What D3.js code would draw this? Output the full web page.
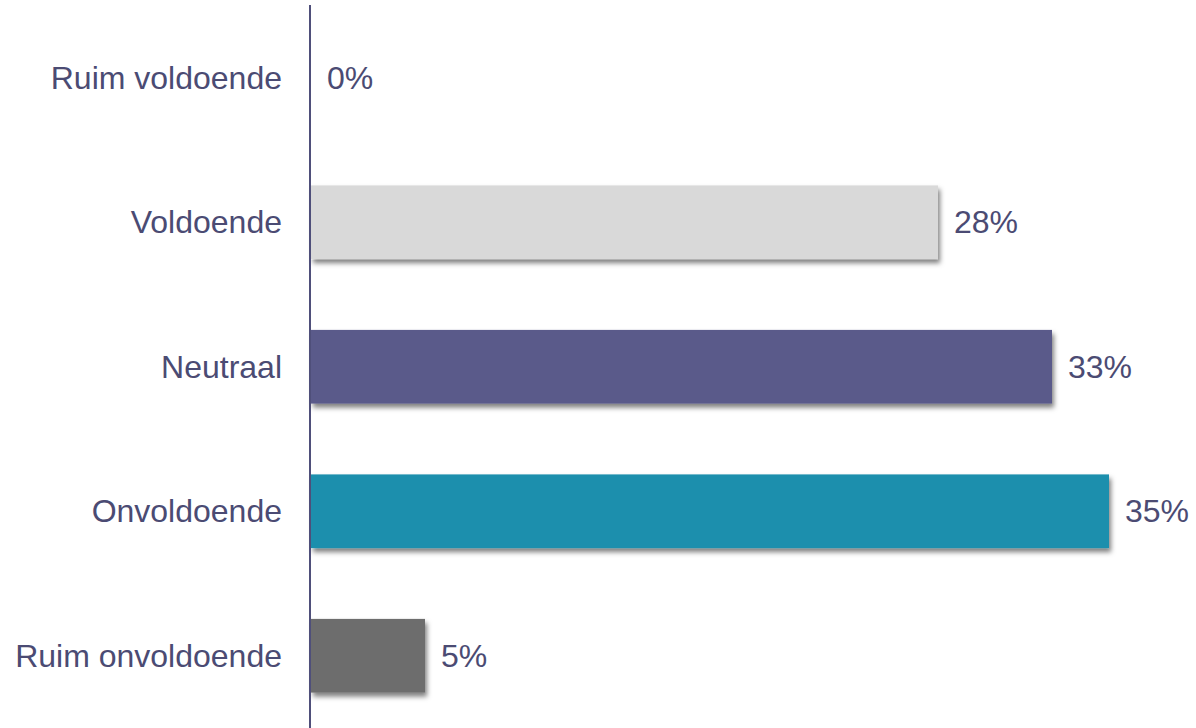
<!DOCTYPE html>
<html>
<head>
    <script src="https://d3js.org/d3.v7.min.js"></script>
    <style>
        body { margin: 0; background: #fff; }
    </style>
</head>
<body>
<script>
    // data
    var categories = ["Ruim voldoende", "Voldoende", "Neutraal", "Onvoldoende", "Ruim onvoldoende"];
    var values = [0, 27.5, 32.5, 35, 5];
    var valueLabels = ["0%", "28%", "33%", "35%", "5%"];
    var colors = ["#d9d9d9", "#d9d9d9", "#5a5a8a", "#1f8fad", "#6d6d6d"];

    var width = 1196, height = 728;
    var textColor = "#4b4b73";

    var svg = d3.select("body").append("svg")
        .attr("width", width)
        .attr("height", height);

    // drop shadow for the bars
    var filter = svg.append("defs").append("filter")
        .attr("id", "shadow")
        .attr("x", "-10%").attr("y", "-20%")
        .attr("width", "130%").attr("height", "160%");
    filter.append("feDropShadow")
        .attr("dx", 2).attr("dy", 4)
        .attr("stdDeviation", 2.5)
        .attr("flood-color", "#000")
        .attr("flood-opacity", 0.5);

    var xScale = d3.scaleLinear()
        .domain([0, 35])
        .range([311, 1109]);

    var yScale = d3.scaleBand()
        .domain(categories)
        .range([5.5, 728])
        .paddingInner(0.49)
        .paddingOuter(0.245);

    // bars
    svg.selectAll(".bar")
        .data(categories)
        .enter()
        .filter(function (d, i) { return values[i] > 0; })
        .append("rect")
        .attr("class", "bar")
        .attr("x", xScale(0))
        .attr("y", function (d) { return yScale(d); })
        .attr("width", function (d) { var i = categories.indexOf(d); return xScale(values[i]) - xScale(0); })
        .attr("height", yScale.bandwidth())
        .attr("fill", function (d) { return colors[categories.indexOf(d)]; })
        .attr("filter", "url(#shadow)");

    // axis line
    svg.append("line")
        .attr("x1", 310).attr("x2", 310)
        .attr("y1", 5).attr("y2", height)
        .attr("stroke", "#4f4f7a")
        .attr("stroke-width", 2);

    // category labels
    svg.selectAll(".cat")
        .data(categories)
        .enter()
        .append("text")
        .attr("class", "cat")
        .attr("x", 282)
        .attr("y", function (d) { return yScale(d) + yScale.bandwidth() / 2; })
        .attr("dy", "0.35em")
        .attr("text-anchor", "end")
        .style("font-family", "'Liberation Sans', Arial, sans-serif")
        .style("font-size", "32px")
        .style("fill", textColor)
        .text(function (d) { return d; });

    // value labels
    svg.selectAll(".val")
        .data(categories)
        .enter()
        .append("text")
        .attr("class", "val")
        .attr("x", function (d, i) { return xScale(values[i]) + 16; })
        .attr("y", function (d) { return yScale(d) + yScale.bandwidth() / 2; })
        .attr("dy", "0.35em")
        .style("font-family", "'Liberation Sans', Arial, sans-serif")
        .style("font-size", "32px")
        .style("fill", textColor)
        .text(function (d, i) { return valueLabels[i]; });
</script>
</body>
</html>
